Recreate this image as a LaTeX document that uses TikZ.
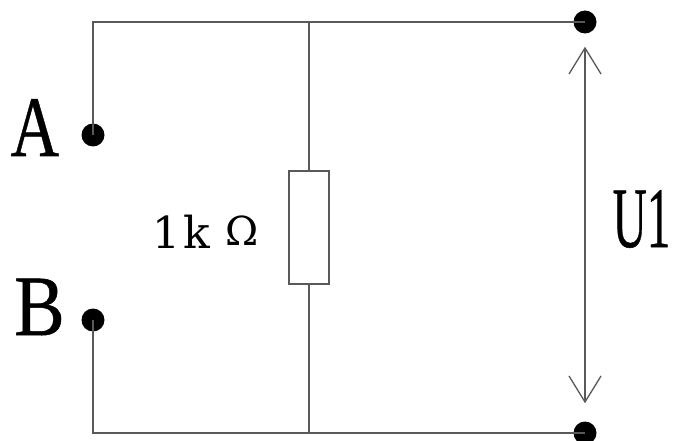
\documentclass[tikz,border=0pt]{standalone}
\usepackage{fontspec}
\setmainfont[FakeBold=0.6]{Liberation Serif}
\newfontfamily\kfont{DejaVu Serif}
\begin{document}
\begin{tikzpicture}[x=1pt,y=-1pt,
  wire/.style={draw=black!65,line width=1.3pt},
  dot/.style={circle,fill=black,draw=none,minimum size=23pt,inner sep=0pt},
  res/.style={draw=black!65,fill=white,line width=1.2pt,minimum width=40pt,minimum height=113pt,inner sep=0pt},
  tall/.style={inner sep=0pt,anchor=base,transform shape,text=black}]
\useasboundingbox (0,0) rectangle (675,441);
\node[dot] (ta) at (93,135) {};
\node[dot] (tb) at (93,320) {};
\node[dot] (tt) at (585,22) {};
\node[dot] (tu) at (585,433) {};
\node[res] (r) at (309,227.5) {};
\coordinate (cl) at (93,22);
\coordinate (cb) at (93,433);
\coordinate (jt) at (309,22);
\coordinate (jb) at (309,433);
\draw[wire] (ta.center) -- (cl) -- (tt.center);
\draw[wire] (tb.center) -- (cb) -- (tu.center);
\draw[wire] (jt) -- (r.north);
\draw[wire] (r.south) -- (jb);
\coordinate (up) at (585,48);
\coordinate (dn) at (585,402);
\draw[wire] (up) -- (dn);
\draw[wire,line join=miter] (569,74) -- (up) -- (601,74);
\draw[wire,line join=miter] (569,376) -- (dn) -- (601,376);
\begin{scope}[xscale=.78]
\node[tall,font=\fontsize{86}{86}\selectfont] (la) at (35/.78,156) {A};
\end{scope}
\begin{scope}[xscale=.88]
\node[tall,font=\fontsize{86}{86}\selectfont] (lb) at (39.5/.88,335) {B};
\end{scope}
\begin{scope}[xscale=.55]
\node[tall,font=\fontsize{86}{86}\selectfont] (lu) at (641.5/.55,247) {U1};
\end{scope}
\node[inner sep=0pt,anchor=base,font=\kfont\fontsize{44}{44}\selectfont] (l1) at (166,248) {1};
\node[inner sep=0pt,anchor=base,font=\kfont\fontsize{44}{44}\selectfont] (lk) at (197,248) {k};
\node[inner sep=0pt,anchor=base,font=\kfont\fontsize{40}{40}\selectfont] (lo) at (242,245) {Ω};
\end{tikzpicture}
\end{document}
